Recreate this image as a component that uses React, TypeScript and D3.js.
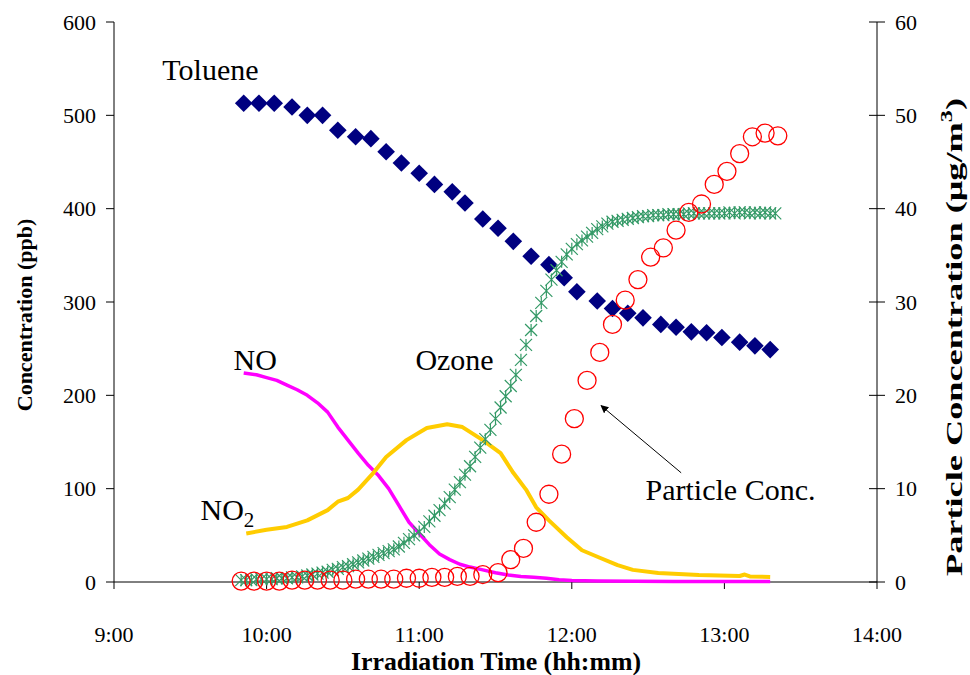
import { range, scaleLinear, line, symbol, symbolSquare } from 'd3'

// Toluene smog-chamber run: gas phase species (left axis, ppb) and particle mass (right axis, ug/m3)
// times are minutes after midnight

const TOLUENE_T = [591, 597, 603, 610, 616, 622, 628, 635, 641, 647, 653, 660, 666, 673, 678, 685, 691, 697, 704, 711, 717, 722, 730, 736, 742, 748, 755, 761, 767, 773, 779, 786, 792, 798]
const TOLUENE = [513, 513, 513, 509, 500, 500, 484, 477, 475, 461, 449, 438, 426, 418, 406, 389, 379, 365, 349, 340, 326, 311, 301, 293, 288, 283, 276, 273, 268, 267, 262, 257, 253, 249]

const OZONE_T = range(590, 801, 2)
const OZONE = [
  2, 2, 2, 3, 3, 3, 3, 4, 4, 4,
  5, 5, 6, 7, 8, 9, 10, 11, 13, 14,
  16, 17, 19, 21, 23, 25, 27, 29, 31, 33,
  35, 38, 42, 46, 50, 54, 59, 65, 71, 77,
  84, 91, 99, 107, 115, 124, 134, 144, 153, 163,
  175, 187, 199, 210, 222, 238, 254, 270, 285, 299,
  312, 324, 334, 343, 351, 357, 362, 366, 370, 374,
  378, 381, 384, 386, 387, 388, 389, 390, 391, 392,
  392, 393, 393, 393, 394, 394, 394, 394, 395, 395,
  395, 395, 395, 395, 395, 395, 396, 395, 396, 396,
  395, 396, 395, 396, 395, 395,
]

const NO_T = [591, 596, 600, 604, 608, 612, 616, 620, 624, 628, 632, 636, 640, 644, 648, 652, 656, 660, 664, 668, 672, 676, 680, 685, 690, 695, 700, 705, 710, 715, 720, 730, 745, 760, 780, 798]
const NO = [224, 222, 219, 216, 211, 206, 200, 192, 182, 166, 152, 138, 125, 114, 100, 82, 64, 52, 40, 30, 24, 19, 16, 13, 10, 7.5, 6, 5, 4, 2.5, 1.5, 1, 0.8, 0.6, 0.5, 0.5]

const NO2_T = [592, 600, 608, 616, 624, 628, 632, 636, 642, 647, 655, 663, 671, 677, 685, 692, 697, 702, 706, 711, 718, 724, 731, 738, 744, 754, 770, 786, 788, 790, 798]
const NO2 = [52, 56, 59, 66, 77, 86, 90, 99, 117, 134, 152, 165, 169, 166, 152, 138, 117, 99, 80, 66, 48, 34, 26, 18, 13, 9.6, 7.5, 6.4, 8, 6, 5.4]

const PM_T = [590, 595, 600, 605, 610, 615, 620, 625, 630, 635, 640, 645, 650, 655, 660, 665, 670, 675, 680, 685, 691, 696, 701, 706, 711, 716, 721, 726, 731, 736, 741, 746, 751, 756, 761, 766, 771, 776, 781, 786, 791, 796, 801]
const PM = [0.1, 0.1, 0.1, 0.1, 0.2, 0.2, 0.2, 0.2, 0.2, 0.3, 0.3, 0.3, 0.3, 0.4, 0.4, 0.5, 0.5, 0.6, 0.6, 0.8, 1.0, 2.4, 3.6, 6.4, 9.4, 13.7, 17.5, 21.6, 24.6, 27.6, 30.2, 32.4, 34.8, 35.8, 37.7, 39.6, 40.5, 42.6, 44.0, 45.9, 47.7, 48.1, 47.8]

const X_TICKS = [540, 600, 660, 720, 780, 840]
const Y_TICKS = [0, 100, 200, 300, 400, 500, 600]
const Y2_TICKS = [0, 10, 20, 30, 40, 50, 60]

const W = 970
const H = 675
const M = { left: 114, right: 93, top: 22, bottom: 93 }
const SERIF = "'Liberation Serif', 'Times New Roman', Times, serif"

const hhmm = (m: number) => `${Math.floor(m / 60)}:${String(m % 60).padStart(2, '0')}`

export default function App() {
  const x = scaleLinear().domain([540, 840]).range([M.left, W - M.right])
  const y = scaleLinear().domain([0, 600]).range([H - M.bottom, M.top])
  const y2 = scaleLinear().domain([0, 60]).range([H - M.bottom, M.top])

  const x0 = M.left
  const x1 = W - M.right
  const yb = H - M.bottom

  const lineGen = line<[number, number]>()
    .x((d) => x(d[0]))
    .y((d) => y(d[1]))
  const noPath = lineGen(NO_T.map((t, i) => [t, NO[i]]))
  const no2Path = lineGen(NO2_T.map((t, i) => [t, NO2[i]]))

  const diamond = symbol(symbolSquare, 155)()
  const s = 6
  const star = `M${-s},${-s}L${s},${s}M${-s},${s}L${s},${-s}M0,${-s}L0,${s}`

  return (
    <svg width={W} height={H} style={{ position: 'absolute', left: 0, top: 0, background: '#fff', fontFamily: SERIF }}>
      {/* axes */}
      <line x1={x0} x2={x1} y1={yb} y2={yb} stroke="#000" />
      <line x1={x0} x2={x0} y1={M.top} y2={yb} stroke="#000" />
      <line x1={x1} x2={x1} y1={M.top} y2={yb} stroke="#000" />
      {X_TICKS.map((t) => (
        <g key={t}>
          <line x1={x(t)} x2={x(t)} y1={yb} y2={yb + 7} stroke="#000" />
          <text x={x(t)} y={yb + 60} textAnchor="middle" fontSize={22}>
            {hhmm(t)}
          </text>
        </g>
      ))}
      {Y_TICKS.map((v) => (
        <g key={v}>
          <line x1={x0 - 8} x2={x0} y1={y(v)} y2={y(v)} stroke="#000" />
          <text x={x0 - 18} y={y(v)} dy="0.35em" textAnchor="end" fontSize={22}>
            {v}
          </text>
        </g>
      ))}
      {Y2_TICKS.map((v) => (
        <g key={v}>
          <line x1={x1 - 8} x2={x1 + 8} y1={y2(v)} y2={y2(v)} stroke="#000" />
          <text x={x1 + 18} y={y2(v)} dy="0.35em" fontSize={22}>
            {v}
          </text>
        </g>
      ))}

      {/* axis titles */}
      <text x={496} y={670} textAnchor="middle" fontSize={25} fontWeight="bold" textLength={290} lengthAdjust="spacingAndGlyphs">
        Irradiation Time (hh:mm)
      </text>
      <text transform="translate(32,315) rotate(-90)" textAnchor="middle" fontSize={22} fontWeight="bold">
        Concentration (ppb)
      </text>
      <text transform="translate(962,337) rotate(-90)" textAnchor="middle" fontSize={24} fontWeight="bold" textLength={478} lengthAdjust="spacingAndGlyphs">
        Particle Concentration (μg/m<tspan dy={-10} fontSize={16}>3</tspan>
        <tspan dy={10}>)</tspan>
      </text>

      {/* series */}
      {TOLUENE_T.map((t, i) => (
        <path key={t} d={diamond} transform={`translate(${x(t)},${y(TOLUENE[i])}) rotate(45)`} fill="#000080" />
      ))}
      <path d={noPath ?? ''} fill="none" stroke="#FF00FF" strokeWidth={3.5} strokeLinejoin="round" />
      <path d={no2Path ?? ''} fill="none" stroke="#FFCC00" strokeWidth={4} strokeLinejoin="round" />
      {OZONE_T.map((t, i) => (
        <path key={t} d={star} transform={`translate(${x(t)},${y(OZONE[i])})`} fill="none" stroke="#339966" strokeWidth={1.2} />
      ))}
      {PM_T.map((t, i) => (
        <circle key={t} cx={x(t)} cy={y2(PM[i])} r={9} fill="none" stroke="#FF0000" strokeWidth={1.3} />
      ))}

      {/* annotations */}
      <defs>
        <marker id="arrowhead" viewBox="0 0 10 10" refX={9} refY={5} markerWidth={8} markerHeight={8} orient="auto">
          <path d="M0,0L10,5L0,10z" fill="#000" />
        </marker>
      </defs>
      <line x1={x(763)} y1={y(117)} x2={x(731.5)} y2={y(189)} stroke="#000" strokeWidth={1} markerEnd="url(#arrowhead)" />
      <text x={x(559)} y={y(538)} fontSize={30}>Toluene</text>
      <text x={x(587)} y={y(227)} fontSize={30}>NO</text>
      <text x={x(658.5)} y={y(227)} fontSize={30}>Ozone</text>
      <text x={x(574)} y={y(66)} fontSize={30}>
        NO<tspan dy={7} fontSize={21}>2</tspan>
      </text>
      <text x={x(749)} y={y(88)} fontSize={30}>Particle Conc.</text>
    </svg>
  )
}
